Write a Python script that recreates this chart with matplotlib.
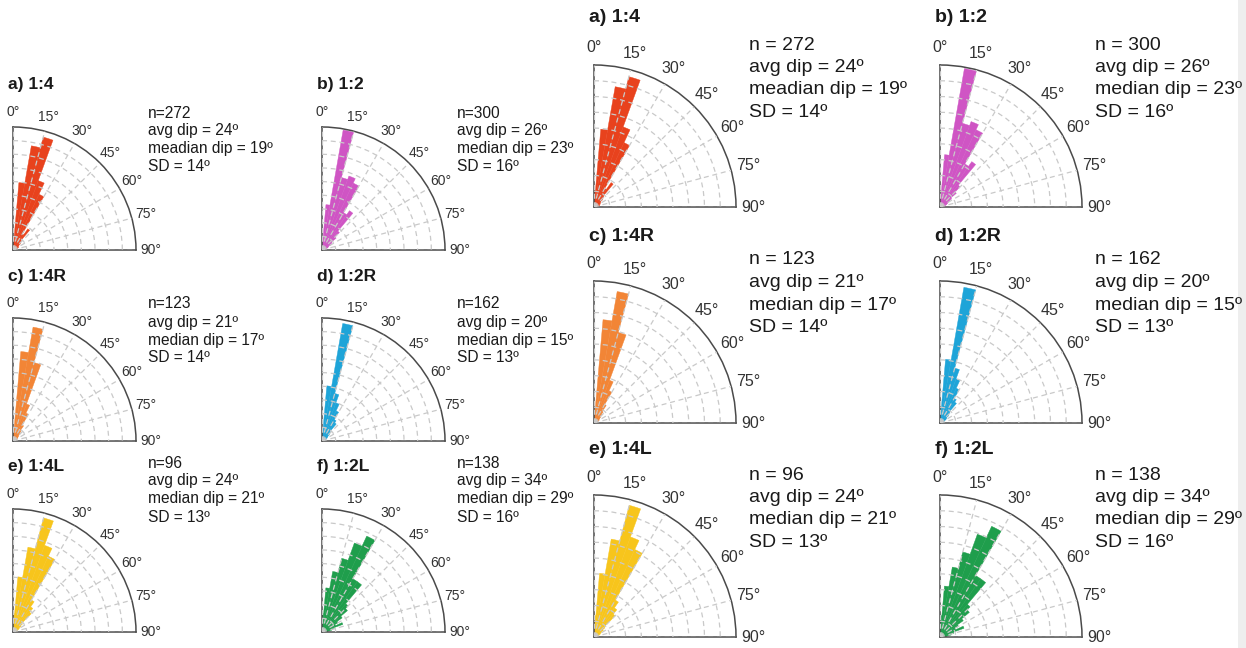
import numpy as np
import matplotlib.pyplot as plt
from matplotlib.patches import Rectangle

# ==============================
# DATOS (longitud relativa de cada sector, bins de 5°)
# ==============================
bins_deg = np.arange(0, 90, 5)

dips_14 = [0.12, 0.55, 0.86, 0.95, 0.60, 0.50, 0.15, 0.21, 0.10, 0.08, 0.06, 0.05, 0.05, 0.04, 0.04, 0.03, 0.03, 0.02]
dips_12 = [0.08, 0.37, 0.99, 0.61, 0.64, 0.60, 0.35, 0.39, 0.20, 0.15, 0.10, 0.08, 0.06, 0.05, 0.04, 0.03, 0.03, 0.02]
dips_14R = [0.10, 0.73, 0.94, 0.66, 0.32, 0.25, 0.15, 0.10, 0.08, 0.06, 0.05, 0.04, 0.04, 0.03, 0.03, 0.02, 0.02, 0.02]
dips_12R = [0.10, 0.45, 0.97, 0.40, 0.33, 0.27, 0.20, 0.18, 0.10, 0.08, 0.06, 0.05, 0.04, 0.03, 0.03, 0.02, 0.02, 0.02]
dips_14L = [0.15, 0.45, 0.70, 0.96, 0.75, 0.68, 0.30, 0.25, 0.21, 0.10, 0.08, 0.06, 0.05, 0.04, 0.03, 0.03, 0.02, 0.02]
dips_12L = [0.15, 0.36, 0.50, 0.62, 0.77, 0.86, 0.50, 0.50, 0.30, 0.27, 0.20, 0.15, 0.12, 0.18, 0.10, 0.08, 0.05, 0.04]

titles = ["a) 1:4", "b) 1:2", "c) 1:4R", "d) 1:2R", "e) 1:4L", "f) 1:2L"]
colors = ["#e8421d", "#cf55c4", "#f28536", "#1ea4d8", "#f7c51c", "#1f9e4c"]
series = [dips_14, dips_12, dips_14R, dips_12R, dips_14L, dips_12L]

n_vals = [272, 300, 123, 162, 96, 138]
avg_vals = [24, 26, 21, 20, 24, 34]
med_vals = [19, 23, 17, 15, 21, 29]
sd_vals = [14, 16, 14, 13, 13, 16]
med_names = ["meadian dip", "median dip", "median dip", "median dip", "median dip", "median dip"]

theta_ticks = np.arange(0, 91, 15)
theta_labels = [f"{t}°" for t in theta_ticks]

# ==============================
# FIGURA
# ==============================
W, H = 1246, 648
plt.rcParams["font.family"] = ["Liberation Sans", "DejaVu Sans"]
fig = plt.figure(figsize=(W / 100, H / 100), dpi=100)
fig.patch.set_facecolor("white")

# franja gris clara en el borde derecho
fig.patches.append(Rectangle((1238 / W, 0), 8 / W, 1, transform=fig.transFigure,
                             facecolor="#eeeeee", edgecolor="none", zorder=0))


def rose(cx, cy, r, vals, color, tick_fs, pad):
    ax = fig.add_axes([cx / W, (H - cy) / H, r / W, r / H], projection="polar")
    ax.set_theta_zero_location("N")
    ax.set_theta_direction(-1)
    ax.set_thetamin(0)
    ax.set_thetamax(90)
    ax.set_rlim(0, 1)
    ax.bar(np.deg2rad(bins_deg), vals, width=np.deg2rad(5), align="edge",
           color=color, edgecolor=color, linewidth=0.3)
    ax.set_xticks(np.deg2rad(theta_ticks))
    ax.set_xticklabels(theta_labels, fontsize=tick_fs, color="#333333")
    ax.set_yticks(np.arange(1, 9) / 9)
    ax.set_yticklabels([])
    ax.set_axisbelow(False)
    ax.grid(True, color="#c9c9c9", linestyle=(0, (4, 3)), linewidth=0.9)
    ax.tick_params(axis="x", pad=pad)
    for s in ax.spines.values():
        s.set_color("#4a4a4a")
        s.set_linewidth(1.1)
    return ax


def texto(x, y, s, fs, bold=False):
    fig.text(x / W, 1 - y / H, s, fontsize=fs, va="center", ha="left",
             fontweight="bold" if bold else "normal", color="#1a1a1a")


# --- conjunto izquierdo (pequeño) ---
left_cols = [13, 322]
left_rows = [250, 441, 632]
left_title_y = [85, 276, 467]
left_text_y = [113, 304, 463]
for i in range(6):
    row, col = divmod(i, 2)
    cx, cy = left_cols[col], left_rows[row]
    rose(cx, cy, 123, series[i], colors[i], 10, 0)
    texto(cx - 5, left_title_y[row], titles[i], 12.5, bold=True)
    tx = cx + 135
    lines = [f"n={n_vals[i]}", f"avg dip = {avg_vals[i]}º",
             f"{med_names[i]} = {med_vals[i]}º", f"SD = {sd_vals[i]}º"]
    for k, s in enumerate(lines):
        texto(tx, left_text_y[row] + 18 * k, s, 11.2)

# --- conjunto derecho (grande) ---
right_cols = [594, 940]
right_rows = [207, 423, 637]
right_title_y = [18, 236, 450]
right_text_y = [45, 260, 475]
for i in range(6):
    row, col = divmod(i, 2)
    cx, cy = right_cols[col], right_rows[row]
    rose(cx, cy, 142, series[i], colors[i], 11.5, 2)
    texto(cx - 5, right_title_y[row], titles[i], 14, bold=True)
    tx = cx + 155
    lines = [f"n = {n_vals[i]}", f"avg dip = {avg_vals[i]}º",
             f"{med_names[i]} = {med_vals[i]}º", f"SD = {sd_vals[i]}º"]
    for k, s in enumerate(lines):
        texto(tx, right_text_y[row] + 22.5 * k, s, 14)

fig.savefig("out.png", dpi=100)
